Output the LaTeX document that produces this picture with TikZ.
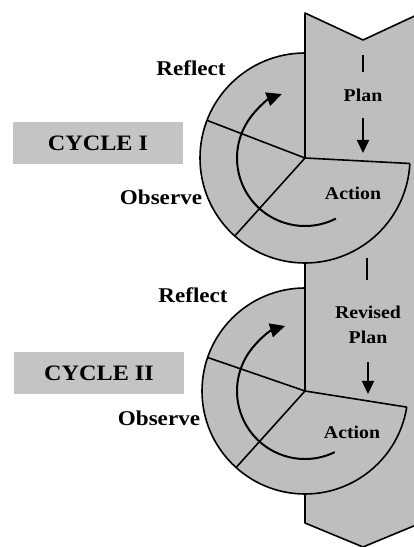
\documentclass[tikz,border=0pt]{standalone}
\usepackage{fontspec}
\setmainfont{Liberation Serif}[FakeStretch=1.1]
\usetikzlibrary{arrows.meta}
\definecolor{panel}{RGB}{190,190,190}
\definecolor{boxgray}{RGB}{196,196,196}
\tikzset{cycle box/.style={fill=boxgray, minimum width=170pt, minimum height=42pt, inner sep=0pt, font=\fontsize{22}{24}\selectfont\bfseries},
  out label/.style={inner sep=0pt, font=\fontsize{21}{23}\selectfont\bfseries},
  in label/.style={inner sep=0pt, align=center, font=\fontsize{18}{25}\selectfont\bfseries},
  outline/.style={line width=1.6pt, line join=round},
  turn/.style={line width=2pt, -{Triangle[length=15pt,width=14pt]}},
  flow/.style={line width=2pt, -{Triangle[length=13pt,width=12pt]}},}

\begin{document}
\begin{tikzpicture}[x=1pt,y=1pt]
   \useasboundingbox (0,0) rectangle (414,547);
   \clip (0,0) rectangle (414,547);
   \coordinate (c1) at (305,389);
   \coordinate (c2) at (305,156);

   % band
   \fill[panel] (305,534) -- (363,507) -- (421,534) -- (421,24) -- (363,0) -- (305,24) -- cycle;
   \draw[outline] (421,534) -- (363,507) -- (305,534) -- (305,24) -- (363,0) -- (421,24);

   % cycle I
   \fill[panel] (c1) circle (105);
   \draw[outline] (c1) ++(90:105) arc[start angle=90, end angle=357, radius=105];
   \draw[outline] (c1) -- ++(90:105) (c1) -- ++(159:105) (c1) -- ++(228:105) (c1) -- ++(-3:105);
   \draw[turn] (c1) ++(-63:68) arc[start angle=-63, end angle=-250, radius=68];

   % cycle II
   \fill[panel] (c2) circle (103);
   \draw[outline] (c2) ++(90:103) arc[start angle=90, end angle=351, radius=103];
   \draw[outline] (c2) -- ++(90:103) (c2) -- ++(161:103) (c2) -- ++(228:103) (c2) -- ++(-9:103);
   \draw[turn] (c2) ++(-64:68) arc[start angle=-64, end angle=-253, radius=68];

   \node[cycle box] (cycle1) at (98,404) {CYCLE I};
   \node[out label] (reflect1) at (191,479) {Reflect};
   \node[out label] (observe1) at (161,350) {Observe};
   \node[in label] (plan1) at (363,452) {Plan};
   \node[in label] (action1) at (353,354) {Action};

   \node[cycle box] (cycle2) at (99,174) {CYCLE II};
   \node[out label] (reflect2) at (193,252) {Reflect};
   \node[out label] (observe2) at (159,129) {Observe};
   \node[in label] (plan2) at (368,222) {Revised\\Plan};
   \node[in label] (action2) at (352,115) {Action};

   \coordinate (tick1a) at (363,492);
   \coordinate (tick1b) at (363,475);
   \coordinate (arr1a) at (363,429);
   \coordinate (arr1b) at (363,394);
   \coordinate (tick2a) at (367,289);
   \coordinate (tick2b) at (367,267);
   \coordinate (arr2a) at (368,185);
   \coordinate (arr2b) at (368,153);
   \draw[line width=1.5pt] (tick1a) -- (tick1b);
   \draw[flow] (arr1a) -- (arr1b);
   \draw[line width=1.5pt] (tick2a) -- (tick2b);
   \draw[flow] (arr2a) -- (arr2b);
\end{tikzpicture}
\end{document}
